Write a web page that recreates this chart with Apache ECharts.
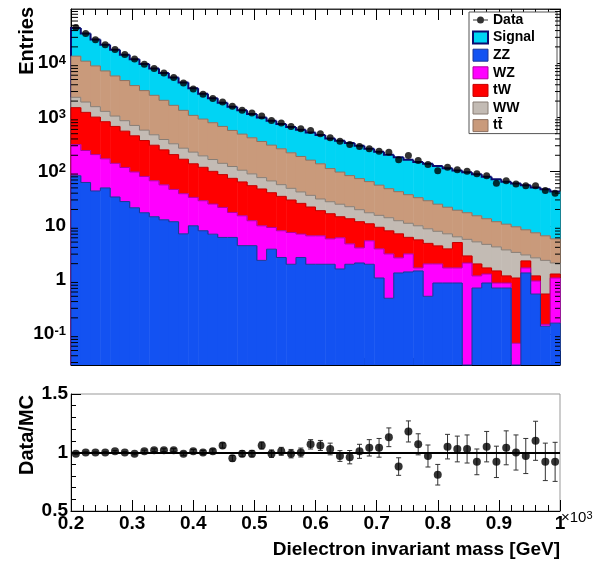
<!DOCTYPE html>
<html>
<head>
<meta charset="utf-8">
<script src="https://cdn.jsdelivr.net/npm/echarts@6/dist/echarts.min.js"></script>
<style>
  html, body { margin: 0; padding: 0; background: #fff; }
  #chart { width: 595px; height: 563px; }
</style>
</head>
<body>
<div id="chart"></div>
<script>
// dielectron mass binning (GeV)
const massMin = 200;
const massMax = 1000;
const binWidth = 16;
const nBins = 50;

// expected entries per bin, one array per process
const signal = [31000, 24290, 18330, 14810, 11960, 9590, 7900, 6540, 5460, 4550, 3770, 3040, 2350,
  1794, 1450, 1175, 991, 857, 740, 641, 562, 495, 445, 402, 366, 335,
  296, 274, 251, 226, 200, 176, 157, 142, 128.5, 117, 110, 102, 93, 85.6, 79.6, 73.7, 66.5, 60.1, 54.3, 50.4, 47.6, 43.6, 40.5, 37.3];
const ttbar = [11130, 8970, 7335, 5910, 4762, 3912, 3153, 2540, 2077, 1673, 1342, 1078, 861,
  735, 631, 539, 450, 385, 330, 282, 240, 206, 173, 148, 126, 108,
  85.8, 72.9, 61.8, 54.4, 47.9, 40.6, 34.3, 30.2, 26.4, 23, 20.2, 17.1, 14.9, 13.1, 11.8, 10.25, 8.96, 7.82, 7.11, 6.35, 5.53, 4.86, 4.23, 3.68];
const ww = [835, 682, 565, 459, 376, 311, 253, 207, 171, 139, 120, 101, 89,
  75, 66, 54, 48.9, 41.5, 35.7, 29.6, 26.5, 22.5, 19.2, 16.2, 14.2, 12.2,
  11.1, 10.3, 9.0, 7.9, 6.5, 6.2, 6.0, 5.3, 5.0, 4.5, 4.06, 3.65, 3.36, 1.35, 2.84, 3.07, 2.87, 2.61, 2.40, 2.14, 0.65, 1.37, 1.75, 0.77];
const tw = [1196, 993, 807, 661, 539, 439, 359, 293, 239, 195, 159, 130, 106,
  91, 75.8, 66.2, 57.5, 49.2, 42.6, 37.8, 31.5, 26.8, 22.4, 18.9, 15.7, 12.5,
  10.96, 8.7, 8.86, 8.0, 5.62, 5.63, 5.05, 4.55, 3.09, 3.83, 2.76, 2.28, 2.08, 3.24, 0.72, 0.79, 0.38, 0.59, 0.31, 1.02, 0.58, 0.23, 0.40, 0.2];
const wz = [232, 182, 162, 122, 108, 91, 77, 64, 53, 44, 35, 32, 23.4,
  20.9, 18.2, 15.7, 11.5, 11.0, 8.1, 7.7, 5.6, 5.5, 5.56, 4.43, 4.58, 4.58,
  3.79, 4.4, 2.69, 1.85, 3.33, 2.66, 2.57, 1.21, 1.62, 0.2, 1.48, 1.1, 0.79, 0.79, 2.06, 0.48, 0.41, 0.17, 0.17, 0.068, 0.32, 0.41, 0.012, 0.93];
const zz = [84, 63, 44, 50, 34, 28, 21.5, 17.4, 14.7, 12.9, 11.9, 7.1, 10.0,
  8.1, 7.0, 6.1, 6.1, 4.3, 4.3, 2.3, 3.7, 2.6, 1.95, 2.6, 1.95, 1.95,
  1.95, 1.6, 1.95, 2.06, 1.95, 1.09, 0.46, 1.35, 1.41, 1.47, 0.5, 0.88, 0.88, 0.88, 0, 0.71, 0.88, 0.71, 0.71, 0, 1.35, 0.55, 0.14, 0.16];

// observed entries
const data = [45400, 35500, 27200, 22000, 17800, 14400, 11900, 9580, 7980, 6610, 5440, 4320, 3340,
  2670, 2220, 1920, 1600, 1350, 1200, 1057, 880, 784, 681, 618, 574, 499,
  421, 364, 316, 290, 263, 238, 228, 165, 198, 160, 135, 104, 120, 108, 101, 91, 84, 61, 68, 59, 55, 55, 45, 40];

// data / MC and its uncertainty
const ratio = [0.99, 1.0, 1.0, 1.0, 1.01, 1.0, 0.99, 1.01, 1.02, 1.02,
  1.02, 0.99, 1.01, 1.0, 1.01, 1.06, 0.95, 0.99, 0.99, 1.06,
  0.99, 1.01, 0.99, 1.0, 1.07, 1.06, 1.03, 0.97, 0.96, 1.01,
  1.04, 1.04, 1.13, 0.88, 1.18, 1.07, 0.97, 0.81, 1.05, 1.03,
  1.03, 0.92, 1.05, 0.92, 1.04, 1.0, 0.97, 1.1, 0.92, 0.92];
const ratioErr = [0.005, 0.006, 0.006, 0.007, 0.007, 0.008, 0.009, 0.01, 0.011, 0.012,
  0.013, 0.014, 0.016, 0.018, 0.02, 0.022, 0.024, 0.026, 0.028, 0.03,
  0.032, 0.034, 0.036, 0.038, 0.04, 0.043, 0.05, 0.046, 0.057, 0.06,
  0.07, 0.08, 0.08, 0.075, 0.09, 0.09, 0.094, 0.088, 0.105, 0.11,
  0.12, 0.11, 0.13, 0.134, 0.145, 0.15, 0.15, 0.167, 0.16, 0.167];

const yMin = 0.027;
const yMax = 1e5;
const FONT = 'Liberation Sans';

const edges = [];
for (let i = 0; i <= nBins; i++) edges.push(massMin + i * binWidth);
const centers = edges.slice(0, nBins).map(e => e + binWidth / 2);

// stacking order, bottom to top
const layers = [
  { name: 'ZZ', values: zz, fill: '#1352f2', line: '#1d3596', width: 1 },
  { name: 'WZ', values: wz, fill: '#ff00ff', line: '#b0009c', width: 1 },
  { name: 'tW', values: tw, fill: '#ff0000', line: '#c40000', width: 1 },
  { name: 'WW', values: ww, fill: '#c3bbb4', line: '#887d74', width: 1 },
  { name: 'tt\u0304', values: ttbar, fill: '#c99a7b', line: '#8c7060', width: 1 },
  { name: 'Signal', values: signal, fill: '#00d4f4', line: '#0b0b70', width: 2 }
];

let base = new Array(nBins).fill(0);
layers.forEach(function (layer) {
  const top = base.map((b, i) => b + layer.values[i]);
  layer.items = top.map(function (t, i) {
    return [edges[i], edges[i + 1], Math.max(base[i], yMin), Math.max(t, yMin),
      Math.max(i ? top[i - 1] : 0, yMin)];
  });
  base = top;
});

function stepRenderer(layer) {
  return function (params, api) {
    const a = api.coord([api.value(0), api.value(2)]);
    const b = api.coord([api.value(1), api.value(3)]);
    const prev = api.coord([api.value(0), api.value(4)]);
    const children = [];
    if (a[1] - b[1] > 0.01) {
      children.push({
        type: 'rect',
        shape: { x: a[0], y: b[1], width: b[0] - a[0] + 0.5, height: a[1] - b[1] },
        style: { fill: layer.fill }
      });
    }
    children.push({
      type: 'polyline',
      shape: { points: [[a[0], prev[1]], [a[0], b[1]], [b[0], b[1]]] },
      style: { stroke: layer.line, lineWidth: layer.width, fill: null }
    });
    return { type: 'group', children: children };
  };
}

// ROOT-like minor ticks on the log axis (2..9 x 10^n)
const minorLog = [];
for (let p = -2; p <= 4; p++) {
  for (let k = 2; k <= 9; k++) {
    const v = k * Math.pow(10, p);
    if (v > yMin && v < yMax) minorLog.push([massMin, v]);
  }
}

const stackSeries = layers.slice().reverse().map(function (layer) {
  return {
    name: layer.name,
    type: 'custom',
    xAxisIndex: 0,
    yAxisIndex: 0,
    silent: true,
    itemStyle: { color: layer.fill },
    encode: { x: [0, 1], y: [2, 3] },
    renderItem: stepRenderer(layer),
    data: layer.items
  };
});

const labelStyle = { fontFamily: FONT, fontWeight: 'bold', fontSize: 19, color: '#000' };

const option = {
  animation: false,
  grid: [
    { left: 71, top: 9, width: 489, height: 356, show: true, borderColor: '#333', borderWidth: 1, outerBoundsMode: 'none' },
    { left: 71, top: 394, width: 489, height: 117, show: true, borderColor: '#999', borderWidth: 1, outerBoundsMode: 'none' }
  ],
  legend: {
    orient: 'vertical',
    left: 469,
    top: 12,
    itemWidth: 15,
    itemHeight: 12,
    itemGap: 3.6,
    padding: [1, 22, 1, 3],
    backgroundColor: '#fff',
    borderColor: '#555',
    borderWidth: 1,
    selectedMode: false,
    textStyle: { fontFamily: FONT, fontWeight: 'bold', fontSize: 14, color: '#000', lineHeight: 14 },
    data: [
      { name: 'Data', icon: 'path://M0,5.5L15,5.5L15,6.5L0,6.5Z M11,6A3.5,3.5,0,1,1,4,6A3.5,3.5,0,1,1,11,6Z', itemStyle: { color: '#000' } }
    ].concat(['Signal', 'ZZ', 'WZ', 'tW', 'WW', 'tt\u0304'].map(function (n) {
      const l = layers.find(x => x.name === n);
      return { name: n, icon: 'rect', itemStyle: { color: l.fill, borderColor: l.line, borderWidth: l.width } };
    }))
  },
  xAxis: [
    {
      type: 'value', gridIndex: 0, min: massMin, max: massMax, interval: 100, position: 'bottom',
      axisLine: { show: true, lineStyle: { color: '#000' } },
      axisTick: { inside: true, length: 14, lineStyle: { color: '#000' } },
      minorTick: { show: true, splitNumber: 5, length: 7, lineStyle: { color: '#000' } },
      axisLabel: { show: false }, splitLine: { show: false }
    },
    {
      type: 'value', gridIndex: 0, min: massMin, max: massMax, interval: 100, position: 'top',
      axisLine: { show: true, lineStyle: { color: '#333' } },
      axisTick: { inside: true, length: 11, lineStyle: { color: '#000' } },
      minorTick: { show: true, splitNumber: 5, length: 6, lineStyle: { color: '#000' } },
      axisLabel: { show: false }, splitLine: { show: false }
    },
    {
      type: 'value', gridIndex: 1, min: massMin, max: massMax, interval: 100, position: 'bottom',
      axisLine: { show: true, lineStyle: { color: '#000' } },
      axisTick: { inside: true, length: 11, lineStyle: { color: '#000' } },
      minorTick: { show: true, splitNumber: 5, length: 6, lineStyle: { color: '#000' } },
      axisLabel: Object.assign({ margin: 3, formatter: v => String(v / 1000) }, labelStyle),
      splitLine: { show: false }
    }
  ],
  yAxis: [
    {
      type: 'log', gridIndex: 0, min: yMin, max: yMax, position: 'left',
      axisLine: { show: true, lineStyle: { color: '#000' } },
      axisTick: { inside: true, length: 14, lineStyle: { color: '#000' } },
      axisLabel: Object.assign({
        margin: 5,
        showMinLabel: false,
        showMaxLabel: false,
        formatter: function (v) {
          const e = Math.round(Math.log10(v));
          if (e === 0) return '1';
          if (e === 1) return '10';
          return '10{e|' + e + '}';
        },
        rich: { e: { fontFamily: FONT, fontWeight: 'bold', fontSize: 13, verticalAlign: 'top', lineHeight: 12 } }
      }, labelStyle),
      splitLine: { show: false }
    },
    {
      type: 'log', gridIndex: 0, min: yMin, max: yMax, position: 'right',
      axisLine: { show: true, lineStyle: { color: '#333' } },
      axisTick: { inside: true, length: 10, lineStyle: { color: '#000' } },
      axisLabel: { show: false }, splitLine: { show: false }
    },
    {
      type: 'value', gridIndex: 1, min: 0.5, max: 1.5, interval: 0.5,
      axisLine: { show: true, lineStyle: { color: '#000' } },
      axisTick: { inside: true, length: 10, lineStyle: { color: '#000' } },
      minorTick: { show: true, splitNumber: 5, length: 5, lineStyle: { color: '#000' } },
      axisLabel: Object.assign({ margin: 3, formatter: v => String(v) }, labelStyle),
      splitLine: { show: false }
    }
  ],
  graphic: [
    { type: 'text', x: 27, y: 7, rotation: Math.PI / 2,
      style: { text: 'Entries', font: 'bold 20px "Liberation Sans"', fill: '#000', align: 'right', verticalAlign: 'middle' } },
    { type: 'text', x: 27, y: 395, rotation: Math.PI / 2,
      style: { text: 'Data/MC', font: 'bold 20px "Liberation Sans"', fill: '#000', align: 'right', verticalAlign: 'middle' } },
    { type: 'text', x: 560, y: 550,
      style: { text: 'Dielectron invariant mass [GeV]', font: 'bold 19px "Liberation Sans"', fill: '#000', align: 'right', verticalAlign: 'middle' } },
    { type: 'text', x: 561, y: 518,
      style: { text: '\u00d710{s|3}', font: '15px "Liberation Sans"', fill: '#000', align: 'left', verticalAlign: 'middle',
        rich: { s: { fontFamily: FONT, fontSize: 11, verticalAlign: 'top', lineHeight: 10 } } } }
  ],
  series: stackSeries.concat([
    {
      name: 'minorLogTicks',
      type: 'custom',
      xAxisIndex: 0, yAxisIndex: 0,
      silent: true,
      encode: { x: 0, y: 1 },
      renderItem: function (params, api) {
        const l = api.coord([massMin, api.value(1)]);
        const r = api.coord([massMax, api.value(1)]);
        return { type: 'group', children: [
          { type: 'line', shape: { x1: l[0], y1: l[1], x2: l[0] + 7, y2: l[1] }, style: { stroke: '#000', lineWidth: 1 } },
          { type: 'line', shape: { x1: r[0] - 5, y1: r[1], x2: r[0], y2: r[1] }, style: { stroke: '#000', lineWidth: 1 } }
        ] };
      },
      data: minorLog,
      z: 5
    },
    {
      name: 'Data',
      type: 'scatter',
      xAxisIndex: 0, yAxisIndex: 0,
      symbol: 'circle', symbolSize: 7,
      itemStyle: { color: '#000' },
      silent: true,
      data: centers.map((c, i) => [c, data[i]]),
      z: 6
    },
    {
      name: 'ratioErr',
      type: 'custom',
      xAxisIndex: 2, yAxisIndex: 2,
      silent: true,
      encode: { x: 0, y: 1 },
      renderItem: function (params, api) {
        const x = api.value(0), r = api.value(1), e = api.value(2);
        const lo = api.coord([x, r - e]);
        const hi = api.coord([x, r + e]);
        const st = { stroke: '#333', lineWidth: 1 };
        return { type: 'group', children: [
          { type: 'line', shape: { x1: lo[0], y1: lo[1], x2: hi[0], y2: hi[1] }, style: st },
          { type: 'line', shape: { x1: lo[0] - 2.5, y1: lo[1], x2: lo[0] + 2.5, y2: lo[1] }, style: st },
          { type: 'line', shape: { x1: hi[0] - 2.5, y1: hi[1], x2: hi[0] + 2.5, y2: hi[1] }, style: st }
        ] };
      },
      data: centers.map((c, i) => [c, ratio[i], ratioErr[i]])
    },
    {
      name: 'ratio',
      type: 'scatter',
      xAxisIndex: 2, yAxisIndex: 2,
      symbol: 'circle', symbolSize: 8,
      itemStyle: { color: '#000' },
      silent: true,
      data: centers.map((c, i) => [c, ratio[i]]),
      markLine: {
        silent: true, symbol: 'none', label: { show: false },
        lineStyle: { color: '#000', width: 2, type: 'solid' },
        data: [{ yAxis: 1 }]
      },
      z: 3
    }
  ])
};

const chart = echarts.init(document.getElementById('chart'), null, { renderer: 'canvas' });
chart.setOption(option);
</script>
</body>
</html>
